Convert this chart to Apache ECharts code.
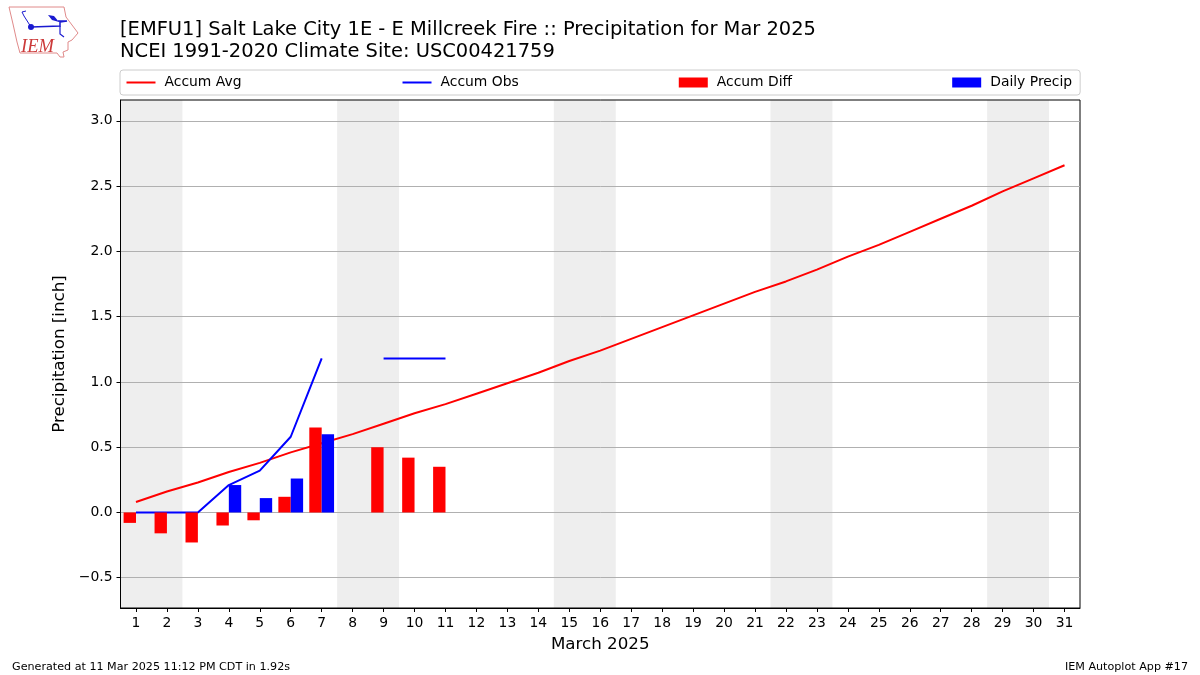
<!DOCTYPE html>
<html>
<head>
<meta charset="utf-8">
<style>
    html, body { margin: 0; padding: 0; background: #fff; }
    #chart { width: 1200px; height: 675px; }
</style>
<script src="https://cdn.jsdelivr.net/npm/echarts@6/dist/echarts.min.js"></script>
</head>
<body>
<div id="chart"></div>
<script>
const days = ["1","2","3","4","5","6","7","8","9","10","11","12","13","14","15","16","17","18","19","20","21","22","23","24","25","26","27","28","29","30","31"];
const accumAvg = [0.08,0.16,0.23,0.31,0.38,0.46,0.53,0.60,0.68,0.76,0.83,0.91,0.99,1.07,1.16,1.24,1.33,1.42,1.51,1.60,1.69,1.77,1.86,1.96,2.05,2.15,2.25,2.35,2.46,2.56,2.66];
const accumObs = [0,0,0,0.21,0.32,0.58,1.18,null,1.18,1.18,1.18];
const accumDiff = [-0.08,-0.16,-0.23,-0.10,-0.06,0.12,0.65,null,0.50,0.42,0.35];
const dailyPrecip = [0,0,0,0.21,0.11,0.26,0.60,null,0,0,0];
const weekendBands = [[0.5,2.5],[7.5,9.5],[14.5,16.5],[21.5,23.5],[28.5,30.5]];
const yTicks = [-0.5,0,0.5,1,1.5,2,2.5,3];

const font = "DejaVu Sans";
const chart = echarts.init(document.getElementById("chart"), null, { renderer: "canvas" });

chart.setOption({
    animation: false,
    backgroundColor: "#fff",
    textStyle: { fontFamily: font },
    title: [
        {
            text: "[EMFU1] Salt Lake City 1E - E Millcreek Fire :: Precipitation for Mar 2025\nNCEI 1991-2020 Climate Site: USC00421759",
            left: 120, top: 19, padding: 0,
            textStyle: { fontFamily: font, fontSize: 19.47, fontWeight: "normal", color: "#000", lineHeight: 22 },
        },
        {
            text: "Generated at 11 Mar 2025 11:12 PM CDT in 1.92s",
            left: 12, top: 662, padding: 0,
            textStyle: { fontFamily: font, fontSize: 11.15, fontWeight: "normal", color: "#000" },
        },
        {
            text: "IEM Autoplot App #17",
            right: 12, top: 662, padding: 0,
            textStyle: { fontFamily: font, fontSize: 11.15, fontWeight: "normal", color: "#000" },
        },
    ],
    legend: {
        left: 120, top: 70,
        padding: [5.5, 8, 5.5, 5.5],
        itemGap: 160, itemWidth: 29, itemHeight: 10,
        borderColor: "#ccc", borderWidth: 1, borderRadius: 3,
        textStyle: { fontFamily: font, fontSize: 13.9, color: "#000", padding: [0, 0, 0, 4] },
        data: [
            { name: "Accum Avg", itemStyle: { opacity: 0 } },
            { name: "Accum Obs", itemStyle: { opacity: 0 } },
            { name: "Accum Diff", icon: "rect" },
            { name: "Daily Precip", icon: "rect" },
        ],
    },
    grid: { left: 120.5, top: 100, width: 959.5, height: 508, show: true, z: 5, borderColor: "#000", borderWidth: 1, backgroundColor: "transparent" },
    xAxis: [
        {
            type: "category",
            data: days,
            z: 5,
            name: "March 2025",
            nameLocation: "middle",
            nameGap: 28,
            nameTextStyle: { fontFamily: font, fontSize: 16.7, color: "#000" },
            axisLine: { show: true, onZero: false, lineStyle: { color: "#000" } },
            axisTick: { show: true, alignWithLabel: true, length: 4, lineStyle: { color: "#000" } },
            axisLabel: { interval: 0, color: "#000", fontFamily: font, fontSize: 13.9, margin: 8 },
            splitLine: { show: false },
        },
        { type: "value", show: false, min: 0.5, max: 31.5 },
    ],
    yAxis: {
        type: "value",
        z: 5,
        min: -0.732,
        max: 3.16,
        name: "Precipitation [inch]",
        nameLocation: "middle",
        nameGap: 46,
        nameTextStyle: { fontFamily: font, fontSize: 16.7, color: "#000" },
        axisLine: { show: true, onZero: false, lineStyle: { color: "#000" } },
        axisTick: { show: true, length: 4, customValues: yTicks, lineStyle: { color: "#000" } },
        axisLabel: {
            color: "#000", fontFamily: font, fontSize: 13.9, margin: 8, padding: [4, 0, 0, 0],
            customValues: yTicks,
            formatter: (v) => (v < 0 ? "\u2212" : "") + Math.abs(v).toFixed(1),
        },
        splitLine: { show: true, lineStyle: { color: "#b0b0b0", width: 1 } },
    },
    series: [
        {
            name: "weekends",
            type: "line",
            xAxisIndex: 1,
            z: 1,
            silent: true,
            symbol: "none",
            data: [],
            markArea: {
                silent: true,
                z: 1,
                itemStyle: { color: "#eeeeee" },
                data: weekendBands.map((b) => [{ xAxis: b[0] }, { xAxis: b[1] }]),
            },
        },
        { name: "Accum Avg", type: "line", data: accumAvg, symbol: "none", z: 6, lineStyle: { color: "#ff0000", width: 2 }, itemStyle: { color: "#ff0000" } },
        { name: "Accum Obs", type: "line", data: accumObs, symbol: "none", z: 6, connectNulls: false, lineStyle: { color: "#0000ff", width: 2 }, itemStyle: { color: "#0000ff" } },
        { name: "Accum Diff", type: "bar", data: accumDiff, barWidth: "40%", barGap: 0, z: 7, itemStyle: { color: "#ff0000", borderRadius: 0 } },
        { name: "Daily Precip", type: "bar", data: dailyPrecip, barWidth: "40%", barGap: 0, z: 7, itemStyle: { color: "#0000ff", borderRadius: 0 } },
    ],
    graphic: [
        // IEM logo
        {
            type: "polygon", silent: true,
            shape: { points: [[9,7],[64,7],[66,17],[72,25],[78,33],[72,40],[68,42],[68,50],[63,52],[64,57],[60,57],[57,53],[20,53],[17,42],[13,24]] },
            style: { fill: "#fff", stroke: "#e08a8a", lineWidth: 1 },
        },
        { type: "polyline", silent: true, shape: { points: [[31,27],[60,26],[60,22],[67,21],[58,21]] }, style: { stroke: "#1a1ad0", lineWidth: 1.5, fill: null } },
        { type: "polyline", silent: true, shape: { points: [[31,27],[24,16],[22,12],[26,11]] }, style: { stroke: "#1a1ad0", lineWidth: 1, fill: null } },
        { type: "polyline", silent: true, shape: { points: [[60,26],[60,34],[64,37]] }, style: { stroke: "#1a1ad0", lineWidth: 1.2, fill: null } },
        { type: "circle", silent: true, shape: { cx: 31, cy: 27, r: 3 }, style: { fill: "#1a1ad0" } },
        { type: "polygon", silent: true, shape: { points: [[48,15],[54,16],[59,22],[52,20]] }, style: { fill: "#1a1ad0" } },
        {
            type: "text", silent: true, x: 21, y: 38,
            style: { text: "IEM", fill: "#cc3a3a", fontFamily: "Liberation Serif", fontStyle: "italic", fontSize: 18.5 },
        },
    ],
});
</script>
</body>
</html>
